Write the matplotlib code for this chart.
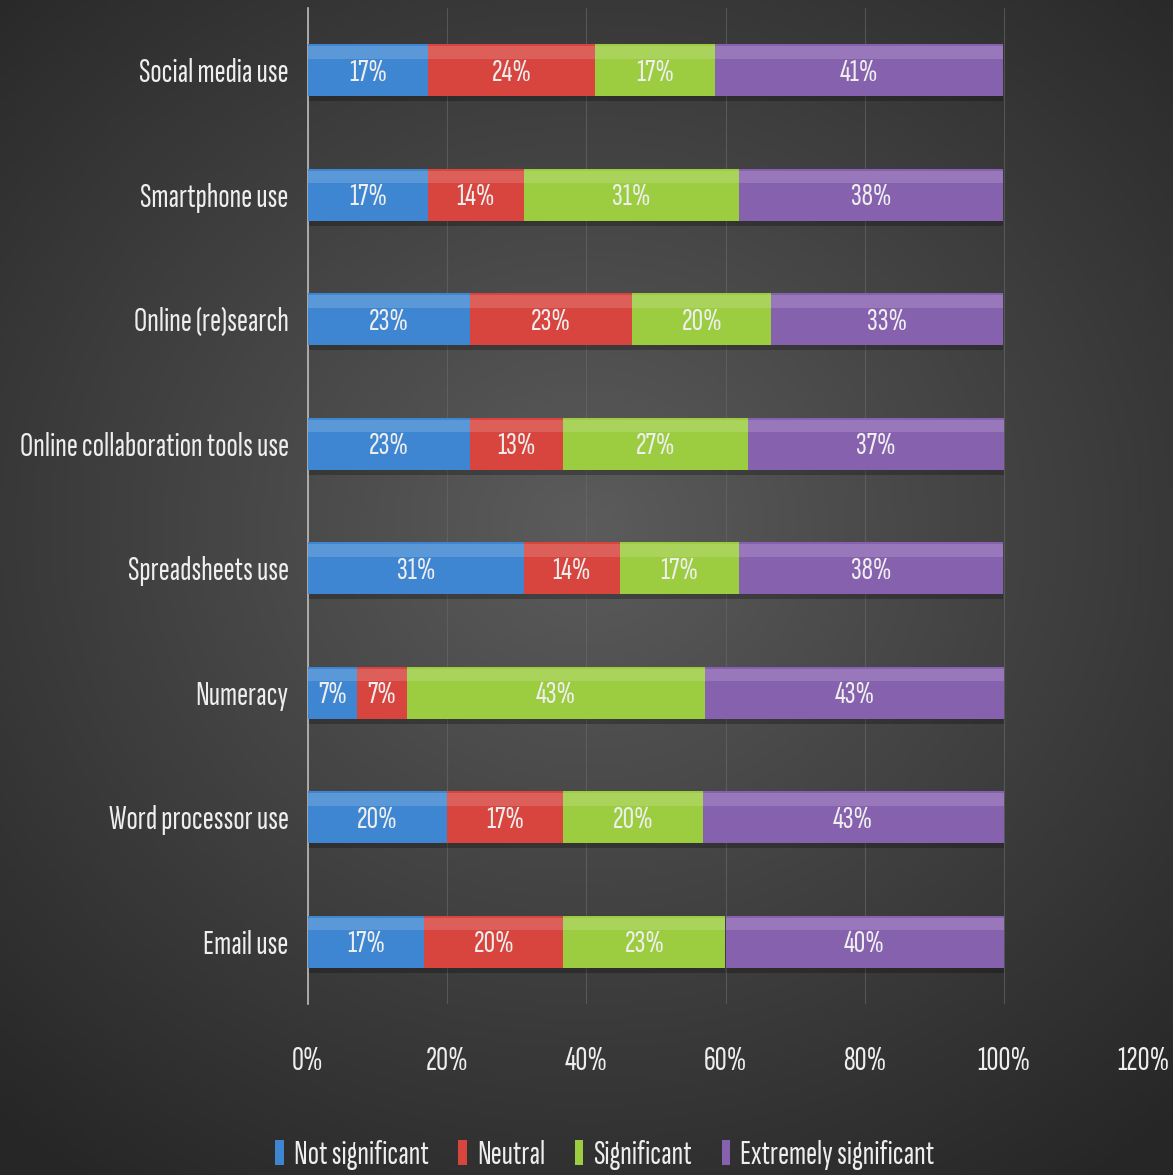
import matplotlib.pyplot as plt
from matplotlib.patches import Patch
from matplotlib.ticker import PercentFormatter
import numpy as np

# data (percent)
categories = ["Social media use", "Smartphone use", "Online (re)search",
              "Online collaboration tools use", "Spreadsheets use", "Numeracy",
              "Word processor use", "Email use"]
not_significant = [17.2, 17.2, 23.3, 23.3, 31.0, 7.1, 20.0, 16.7]
neutral = [24.1, 13.8, 23.3, 13.3, 13.8, 7.1, 16.7, 20.0]
significant = [17.2, 31.0, 20.0, 26.7, 17.2, 42.9, 20.0, 23.3]
extremely_significant = [41.4, 37.9, 33.3, 36.7, 37.9, 42.9, 43.3, 40.0]
series_names = ["Not significant", "Neutral", "Significant", "Extremely significant"]
colors = ["#3f86d2", "#d8443e", "#9ccc3f", "#8661ae"]

plt.rcParams['font.family'] = ['Sofia Sans Extra Condensed', 'Roboto Condensed', 'DejaVu Sans']
text_color = "#eeeeee"

fig = plt.figure(figsize=(11.73, 11.75), dpi=100)

# radial gradient background
bg = fig.add_axes([0, 0, 1, 1], zorder=-5)
yy, xx = np.mgrid[0:1:300j, 0:1:300j]
r = np.sqrt((xx - 0.5) ** 2 + ((yy - 0.45) * 1.1) ** 2)
shade = np.clip(0.36 - 0.28 * r, 0.15, 0.36)
bg.imshow(np.dstack([shade, shade, shade]), extent=[0, 1, 0, 1], aspect='auto')
bg.axis('off')

ax = fig.add_axes([308 / 1173, 1 - 1004 / 1175, 835 / 1173, 996 / 1175])
ax.set_facecolor('none')

series = [not_significant, neutral, significant, extremely_significant]
y = np.arange(len(categories))
h = 0.42
left = np.zeros(len(categories))
for vals, c in zip(series, colors):
    vals = np.array(vals) / 100
    # drop shadow
    ax.barh(y + 0.04, vals, left=left, height=h, color='black', alpha=0.25, zorder=2)
    ax.barh(y, vals, left=left, height=h, color=c, edgecolor='none', zorder=3)
    # highlight on top edge
    ax.barh(y - h * 0.34, vals, left=left, height=h * 0.24, color='white', alpha=0.15,
            edgecolor='none', zorder=4)
    for yi, l, v in zip(y, left, vals):
        ax.text(l + v / 2, yi + 0.02, f"{v * 100:.0f}%", ha='center', va='center',
                color=text_color, fontsize=23, zorder=5)
    left += vals

ax.set_xlim(0, 1.2)
ax.set_ylim(len(categories) - 0.5, -0.5)
ax.set_yticks(y)
ax.set_yticklabels(categories, fontsize=24, color=text_color)
ax.xaxis.set_major_formatter(PercentFormatter(1.0, decimals=0))
ax.set_xticks(np.arange(0, 1.21, 0.2))
ax.tick_params(axis='x', colors=text_color, labelsize=24, length=0, pad=30)
ax.tick_params(axis='y', length=0, pad=14)
ax.grid(axis='x', color='#6a6a6a', linewidth=0.8, alpha=0.6, zorder=0)
ax.set_axisbelow(True)
for s in ['top', 'right', 'bottom']:
    ax.spines[s].set_visible(False)
ax.spines['left'].set_color('#bbbbbb')
ax.spines['left'].set_linewidth(1.2)

handles = [Patch(facecolor=c) for c in colors]
leg = fig.legend(handles, series_names, loc='center', bbox_to_anchor=(605 / 1173, 1 - 1155 / 1175),
                 ncol=4, frameon=False, fontsize=24, handlelength=0.25, handleheight=0.8,
                 handletextpad=0.3, columnspacing=0.9)
for t in leg.get_texts():
    t.set_color(text_color)

fig.savefig("out.png", dpi=100)
